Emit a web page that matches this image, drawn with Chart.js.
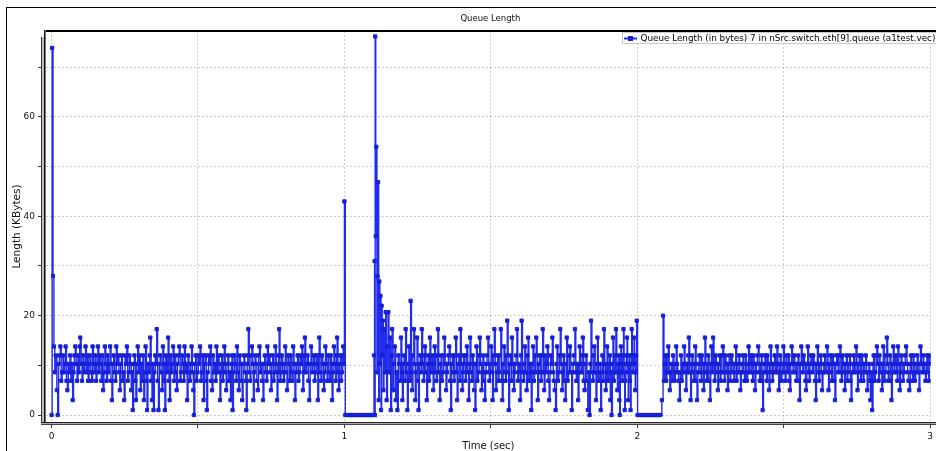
<!DOCTYPE html>
<html>
<head>
<meta charset="utf-8">
<title>Queue Length</title>
<script src="https://cdn.jsdelivr.net/npm/chart.js@4.4.1/dist/chart.umd.min.js"></script>
<style>
  html, body { margin: 0; padding: 0; background: #fff; }
  #wrap { width: 936px; height: 451px; }
</style>
</head>
<body>
<div id="wrap"><canvas id="queueChart" width="936" height="451"></canvas></div>
<script>
// Queue length samples: [time in ms, queue length in KBytes]
const startupBurst = [[0,0],[2,73.9],[5,28],[8,13.8],[11,8.6],[14,12],[18,5],[21,0]];

const firstBand = [
  [24,10.3],[27,12],[30,13.8],[33,6.9],[36,8.6],[39,12],[42,8.6],[45,10.3],[48,13.8],[51,6.9],
  [54,5],[57,10.3],[60,8.6],[63,12],[66,6.9],[69,10.3],[72,3],[75,8.6],[78,12],[81,13.8],
  [84,10.3],[87,6.9],[90,12],[93,8.6],[96,13.8],[98,15.6],[101,10.3],[104,6.9],[107,12],[110,8.6],
  [113,10.3],[116,13.8],[119,8.6],[122,12],[125,6.9],[128,10.3],[131,12],[134,8.6],[137,6.9],[140,13.8],
  [143,10.3],[146,8.6],[149,12],[152,6.9],[155,10.3],[158,13.8],[161,8.6],[164,12],[167,10.3],[170,6.9],
  [173,12],[176,5],[179,8.6],[182,13.8],[185,10.3],[188,6.9],[191,12],[194,8.6],[197,10.3],[200,13.8],
  [203,6.9],[206,3],[209,10.3],[212,12],[215,8.6],[218,6.9],[221,13.8],[224,10.3],[227,12],[230,8.6],
  [233,5],[236,10.3],[239,12],[242,6.9],[245,8.6],[248,3],[251,12],[254,10.3],[257,13.8],[260,6.9],
  [263,8.6],[266,12],[269,10.3],[272,5],[275,8.6],[277,1],[280,10.3],[283,12],[286,6.9],[288,3],
  [291,10.3],[294,13.8],[297,8.6],[300,12],[303,5],[306,10.3],[309,6.9],[312,12],[315,3],[318,8.6],
  [321,13.8],[324,6.9],[326,1],[329,10.3],[332,8.6],[335,12],[337,15.6],[340,6.9],[343,3],[345,10.3],
  [348,1],[351,8.6],[354,12],[357,10.3],[359,17.3],[362,6.9],[365,1],[368,10.3],[371,12],[374,8.6],
  [377,5],[380,13.8],[383,10.3],[385,6.9],[387,1],[390,12],[393,8.6],[396,10.3],[398,15.6],[401,6.9],
  [403,3],[406,12],[409,8.6],[412,10.3],[415,13.8],[418,6.9],[421,12],[424,8.6],[427,5],[430,10.3],
  [433,12],[436,13.8],[439,6.9],[442,8.6],[445,12],[448,10.3],[451,6.9],[454,13.8],[457,8.6],[460,10.3],
  [463,3],[466,12],[469,8.6],[472,6.9],[475,10.3],[478,13.8],[481,8.6],[484,5],[486,0],[489,10.3],
  [492,12],[495,6.9],[498,8.6],[501,12],[504,10.3],[507,13.8],[510,6.9],[513,8.6],[516,12],[519,3],
  [522,10.3],[525,12],[528,6.9],[530,1],[533,8.6],[536,12],[539,10.3],[542,13.8],[545,6.9],[548,5],
  [551,12],[554,8.6],[557,10.3],[560,6.9],[563,13.8],[566,8.6],[569,12],[572,10.3],[575,3],[578,8.6],
  [581,12],[584,6.9],[587,10.3],[590,13.8],[593,8.6],[596,5],[599,10.3],[602,12],[605,6.9],[608,8.6],
  [611,3],[614,10.3],[616,12],[618,1],[621,8.6],[624,12],[627,10.3],[630,6.9],[633,13.8],[636,8.6],
  [639,5],[642,12],[645,10.3],[648,6.9],[651,3],[654,10.3],[657,12],[660,8.6],[663,6.9],[665,1],
  [668,10.3],[670,12],[672,17.3],[675,8.6],[678,6.9],[681,12],[684,13.8],[687,10.3],[689,3],[692,8.6],
  [695,12],[698,10.3],[701,6.9],[704,5],[707,12],[710,13.8],[713,8.6],[716,10.3],[719,6.9],[722,3],
  [725,10.3],[728,12],[731,8.6],[734,6.9],[737,13.8],[740,10.3],[743,12],[746,8.6],[749,5],[752,10.3],
  [755,12],[758,6.9],[761,8.6],[764,13.8],[767,10.3],[770,3],[773,8.6],[775,12],[777,17.3],[780,6.9],
  [783,10.3],[786,12],[789,8.6],[792,6.9],[795,10.3],[798,13.8],[801,8.6],[804,5],[807,12],[810,10.3],
  [813,6.9],[816,12],[819,8.6],[822,6.9],[825,13.8],[828,10.3],[831,3],[834,8.6],[837,10.3],[840,12],
  [843,6.9],[846,8.6],[849,12],[852,10.3],[855,13.8],[858,5],[861,8.6],[863,12],[865,15.6],[868,8.6],
  [871,10.3],[874,12],[877,6.9],[880,3],[883,10.3],[886,13.8],[889,8.6],[892,10.3],[895,12],[898,6.9],
  [901,8.6],[904,12],[907,10.3],[909,3],[912,12],[914,15.6],[917,8.6],[920,6.9],[923,12],[926,10.3],
  [929,5],[932,8.6],[935,13.8],[938,10.3],[941,6.9],[944,12],[947,8.6],[950,6.9],[953,12],[956,10.3],
  [958,3],[961,8.6],[964,13.8],[967,10.3],[970,6.9],[973,12],[975,15.6],[978,8.6],[980,5],[983,10.3],
  [986,12],[989,6.9],[991,8.6],[994,12],[996,13.8],[998,10.3],[1000,43]
];

const firstIdle = [
  [1003,0],[1009,0],[1015,0],[1021,0],[1027,0],[1033,0],[1039,0],[1045,0],[1051,0],[1057,0],
  [1063,0],[1069,0],[1075,0],[1081,0],[1087,0],[1093,0],[1099,0]
];

const secondBurst = [
  [1101,12],[1103,31],[1104,0],[1105,76.2],[1107,36],[1109,54],[1111,8.6],[1113,27.9],[1115,46.9],[1117,3],
  [1119,26.9],[1121,10.3],[1123,24],[1125,1],[1127,22],[1129,12],[1131,19],[1133,5],[1135,17.3],[1138,8.6],
  [1141,20.7],[1144,3],[1147,13.8]
];

const secondBand = [
  [1150,20.7],[1152,8.6],[1155,15.6],[1158,1],[1161,12],[1163,17.3],[1166,5],[1169,10.3],[1172,13.8],[1175,3],
  [1178,8.6],[1181,1],[1184,12],[1187,10.3],[1190,6.9],[1193,15.6],[1196,8.6],[1198,3],[1201,10.3],[1204,12],
  [1207,6.9],[1209,17.3],[1212,8.6],[1215,1],[1218,10.3],[1220,13.8],[1223,6.9],[1226,23],[1229,8.6],[1231,5],
  [1234,12],[1237,17.3],[1240,10.3],[1242,3],[1245,8.6],[1248,15.6],[1251,6.9],[1253,1],[1256,10.3],[1259,12],
  [1262,8.6],[1264,17.3],[1267,10.3],[1270,6.9],[1273,12],[1275,13.8],[1278,8.6],[1281,3],[1284,10.3],[1286,12],
  [1289,6.9],[1292,15.6],[1295,10.3],[1297,8.6],[1300,12],[1303,5],[1306,10.3],[1308,13.8],[1311,8.6],[1314,6.9],
  [1317,12],[1319,17.3],[1322,8.6],[1325,3],[1328,10.3],[1330,12],[1333,6.9],[1336,8.6],[1339,12],[1341,15.6],
  [1344,10.3],[1347,5],[1350,8.6],[1352,10.3],[1355,12],[1358,13.8],[1361,6.9],[1363,1],[1366,10.3],[1369,12],
  [1372,8.6],[1374,6.9],[1377,12],[1380,15.6],[1383,8.6],[1385,3],[1388,10.3],[1391,12],[1394,6.9],[1396,17.3],
  [1399,10.3],[1402,5],[1405,8.6],[1407,12],[1410,10.3],[1413,6.9],[1416,12],[1418,13.8],[1421,8.6],[1424,3],
  [1427,10.3],[1429,15.6],[1432,8.6],[1435,6.9],[1438,12],[1440,10.3],[1443,5],[1446,1],[1449,10.3],[1451,13.8],
  [1454,6.9],[1457,8.6],[1460,12],[1462,15.6],[1465,10.3],[1468,5],[1471,8.6],[1473,12],[1476,6.9],[1479,3],
  [1482,8.6],[1484,10.3],[1487,12],[1490,15.6],[1493,8.6],[1495,6.9],[1498,10.3],[1501,13.8],[1504,8.6],[1506,3],
  [1509,12],[1512,17.3],[1515,10.3],[1517,5],[1520,8.6],[1523,12],[1526,6.9],[1528,8.6],[1531,12],[1534,17.3],
  [1537,6.9],[1539,3],[1542,10.3],[1545,13.8],[1548,8.6],[1550,6.9],[1553,12],[1556,19],[1559,8.6],[1561,1],
  [1564,10.3],[1567,12],[1570,6.9],[1572,15.6],[1575,10.3],[1578,5],[1581,8.6],[1583,10.3],[1586,12],[1589,17.3],
  [1592,6.9],[1594,8.6],[1597,10.3],[1600,3],[1603,12],[1605,19],[1608,8.6],[1611,6.9],[1614,10.3],[1616,13.8],
  [1619,8.6],[1622,5],[1625,12],[1627,15.6],[1630,6.9],[1633,10.3],[1636,8.6],[1638,1],[1641,10.3],[1644,13.8],
  [1647,6.9],[1649,8.6],[1652,12],[1655,15.6],[1658,8.6],[1660,3],[1663,10.3],[1666,12],[1669,8.6],[1671,6.9],
  [1674,12],[1677,17.3],[1680,8.6],[1682,5],[1685,12],[1688,8.6],[1690,10.3],[1693,13.8],[1696,6.9],[1699,3],
  [1702,8.6],[1704,12],[1707,10.3],[1710,15.6],[1713,8.6],[1715,6.9],[1718,5],[1721,1],[1724,10.3],[1726,13.8],
  [1729,6.9],[1732,8.6],[1735,12],[1737,17.3],[1740,10.3],[1743,5],[1746,8.6],[1748,12],[1751,6.9],[1754,3],
  [1757,10.3],[1759,15.6],[1762,6.9],[1765,8.6],[1768,12],[1770,13.8],[1773,8.6],[1776,1],[1779,8.6],[1781,10.3],
  [1784,12],[1787,17.3],[1790,8.6],[1792,6.9],[1795,10.3],[1798,3],[1801,8.6],[1803,13.8],[1806,10.3],[1809,8.6],
  [1812,12],[1814,15.6],[1817,6.9],[1820,5],[1823,10.3],[1825,12],[1828,6.9],[1831,1],[1834,8.6],[1837,0],
  [1840,10.3],[1842,19],[1845,8.6],[1848,6.9],[1851,12],[1853,13.8],[1856,8.6],[1859,3],[1862,10.3],[1864,15.6],
  [1867,6.9],[1870,8.6],[1873,10.3],[1875,1],[1878,8.6],[1881,12],[1884,6.9],[1886,17.3],[1889,10.3],[1892,5],
  [1895,8.6],[1897,13.8],[1900,6.9],[1903,10.3],[1906,12],[1908,3],[1910,8.6],[1912,0],[1915,10.3],[1917,15.6],
  [1920,6.9],[1922,8.6],[1925,12],[1927,17.3],[1930,8.6],[1932,5],[1935,10.3],[1937,12],[1939,3],[1940,0],
  [1942,8.6],[1944,13.8],[1946,10.3],[1948,6.9],[1951,12],[1953,17.3],[1955,8.6],[1957,1],[1959,6.9],[1961,10.3],
  [1963,12],[1965,15.6],[1967,8.6],[1969,3],[1971,10.3],[1973,12],[1975,6.9],[1977,1],[1979,10.3],[1981,17.3],
  [1983,12],[1985,8.6],[1987,12],[1989,15.6],[1991,10.3],[1993,5],[1995,8.6],[1996,12],[1998,19]
];

const secondIdle = [
  [2001,0],[2007,0],[2013,0],[2019,0],[2025,0],[2031,0],[2037,0],[2043,0],[2049,0],[2055,0],
  [2061,0],[2067,0],[2073,0],[2079,0],[2084,3],[2088,20]
];

const thirdBand = [
  [2091,6.9],[2094,10.3],[2096,12],[2099,6.9],[2101,8.6],[2104,12],[2106,13.8],[2109,8.6],[2111,5],[2114,8.6],
  [2116,10.3],[2119,6.9],[2122,12],[2125,10.3],[2127,6.9],[2130,8.6],[2133,13.8],[2136,10.3],[2138,8.6],[2141,6.9],
  [2144,3],[2147,8.6],[2149,12],[2152,6.9],[2155,10.3],[2158,8.6],[2160,13.8],[2163,10.3],[2166,5],[2169,10.3],
  [2171,8.6],[2174,12],[2176,15.6],[2179,8.6],[2182,3],[2185,10.3],[2187,12],[2190,8.6],[2193,6.9],[2196,10.3],
  [2198,13.8],[2201,6.9],[2204,3],[2207,8.6],[2209,10.3],[2212,12],[2215,8.6],[2218,6.9],[2220,12],[2223,10.3],
  [2226,5],[2229,8.6],[2231,15.6],[2234,10.3],[2237,6.9],[2240,8.6],[2242,12],[2245,6.9],[2248,3],[2251,10.3],
  [2253,13.8],[2256,8.6],[2259,15.6],[2262,10.3],[2264,6.9],[2267,12],[2270,10.3],[2273,8.6],[2275,5],[2278,10.3],
  [2281,12],[2284,6.9],[2286,8.6],[2289,12],[2292,13.8],[2295,8.6],[2297,6.9],[2300,12],[2303,10.3],[2306,8.6],
  [2308,5],[2311,10.3],[2314,12],[2317,6.9],[2319,8.6],[2322,12],[2325,10.3],[2328,8.6],[2330,6.9],[2333,10.3],
  [2336,13.8],[2339,6.9],[2341,8.6],[2344,10.3],[2347,12],[2350,8.6],[2352,5],[2355,8.6],[2358,10.3],[2361,12],
  [2363,8.6],[2366,6.9],[2369,12],[2372,10.3],[2374,6.9],[2377,8.6],[2380,13.8],[2383,8.6],[2385,10.3],[2388,12],
  [2391,8.6],[2394,6.9],[2396,12],[2399,10.3],[2402,5],[2405,8.6],[2407,10.3],[2410,12],[2413,13.8],[2416,8.6],
  [2418,6.9],[2421,10.3],[2424,12],[2426,6.9],[2428,1],[2431,8.6],[2433,10.3],[2436,12],[2439,8.6],[2442,6.9],
  [2444,12],[2447,10.3],[2450,5],[2453,8.6],[2455,13.8],[2458,10.3],[2461,6.9],[2464,8.6],[2466,10.3],[2469,12],
  [2472,8.6],[2475,10.3],[2477,13.8],[2480,8.6],[2483,5],[2486,10.3],[2488,12],[2491,6.9],[2494,8.6],[2497,10.3],
  [2499,13.8],[2502,8.6],[2505,6.9],[2508,12],[2510,10.3],[2513,8.6],[2516,12],[2519,6.9],[2521,5],[2524,10.3],
  [2527,13.8],[2530,10.3],[2532,8.6],[2535,12],[2538,10.3],[2541,8.6],[2543,6.9],[2546,10.3],[2549,12],[2552,6.9],
  [2554,3],[2557,10.3],[2560,13.8],[2563,10.3],[2565,8.6],[2568,12],[2571,10.3],[2574,6.9],[2576,5],[2579,10.3],
  [2582,13.8],[2585,8.6],[2587,6.9],[2590,10.3],[2593,12],[2596,10.3],[2598,8.6],[2601,12],[2604,10.3],[2607,6.9],
  [2609,3],[2612,10.3],[2615,13.8],[2618,8.6],[2620,6.9],[2623,10.3],[2626,12],[2629,8.6],[2631,5],[2634,8.6],
  [2637,10.3],[2640,12],[2642,8.6],[2645,10.3],[2648,13.8],[2651,8.6],[2653,5],[2656,10.3],[2659,12],[2662,8.6],
  [2664,6.9],[2667,12],[2670,10.3],[2673,6.9],[2675,3],[2678,10.3],[2681,12],[2684,10.3],[2686,8.6],[2689,12],
  [2692,13.8],[2695,8.6],[2697,6.9],[2700,12],[2703,10.3],[2706,8.6],[2708,5],[2711,10.3],[2714,12],[2717,6.9],
  [2719,8.6],[2722,10.3],[2725,12],[2728,6.9],[2730,3],[2733,8.6],[2736,10.3],[2739,12],[2741,8.6],[2744,10.3],
  [2747,13.8],[2750,8.6],[2752,5],[2755,10.3],[2758,12],[2761,8.6],[2763,6.9],[2766,12],[2769,10.3],[2772,6.9],
  [2774,8.6],[2777,10.3],[2780,12],[2783,8.6],[2785,5],[2788,8.6],[2791,10.3],[2794,6.9],[2796,3],[2799,8.6],
  [2802,1],[2805,10.3],[2807,12],[2810,6.9],[2813,8.6],[2816,12],[2818,13.8],[2821,10.3],[2824,6.9],[2827,12],
  [2829,10.3],[2832,8.6],[2835,5],[2838,10.3],[2840,13.8],[2843,6.9],[2846,8.6],[2849,12],[2852,15.6],[2855,10.3],
  [2857,6.9],[2860,8.6],[2863,12],[2866,6.9],[2868,3],[2871,10.3],[2874,13.8],[2877,8.6],[2879,10.3],[2882,12],
  [2885,8.6],[2888,6.9],[2890,13.8],[2893,10.3],[2896,5],[2899,8.6],[2901,12],[2904,10.3],[2907,6.9],[2910,8.6],
  [2912,10.3],[2915,12],[2918,13.8],[2921,10.3],[2923,8.6],[2926,6.9],[2929,5],[2932,10.3],[2934,12],[2937,8.6],
  [2940,6.9],[2943,12],[2945,10.3],[2948,6.9],[2951,8.6],[2954,10.3],[2956,12],[2959,8.6],[2962,5],[2965,10.3],
  [2967,13.8],[2970,10.3],[2973,8.6],[2976,12],[2978,10.3],[2981,8.6],[2984,6.9],[2987,10.3],[2989,12],[2992,8.6],
  [2995,6.9],[2997,12],[3000,10.3]
];

// Axis ticks (every tick gets a grid line, only some carry a label)
const xTickValues = [0, 0.5, 1, 1.5, 2, 2.5, 3];
const xTickLabels = ['0', '', '1', '', '2', '', '3'];
const yTickValues = [0, 10, 20, 30, 40, 50, 60, 70];
const yTickLabels = ['0', '', '20', '', '40', '', '60', ''];

const chartTitle = 'Queue Length';
const seriesName = 'Queue Length (in bytes) 7 in nSrc.switch.eth[9].queue (a1test.vec)';
const xAxisTitle = 'Time (sec)';
const yAxisTitle = 'Length (KBytes)';

const lineBlue = 'rgb(34,44,236)';
const markerBlue = 'rgb(24,32,212)';
const uiFont = "'DejaVu Sans', 'Liberation Sans', sans-serif";

const samples = [].concat(startupBurst, firstBand, firstIdle, secondBurst, secondBand, secondIdle, thirdBand)
  .map(([ms, kb]) => ({ x: ms / 1000, y: kb }));

// Window frame, 3D-style axis rails, chart title and legend box
const plotChrome = {
  id: 'plotChrome',
  beforeDraw(chart) {
    const ctx = chart.ctx;
    ctx.save();
    ctx.fillStyle = '#fff';
    ctx.fillRect(0, 0, chart.width, chart.height);
    ctx.restore();
  },
  afterDraw(chart) {
    const { ctx, chartArea: a } = chart;
    const W = chart.width, H = chart.height;
    ctx.save();
    // outer window border
    ctx.fillStyle = '#000';
    ctx.fillRect(6, 7, W - 6, 1);
    ctx.fillRect(6, 7, 1, H - 7);
    // top edge of the plot
    ctx.fillRect(a.left - 2, a.top - 1, W - a.left + 2, 2);
    // left axis rail
    ctx.fillStyle = '#3a3a3a';
    ctx.fillRect(a.left - 5, a.top + 6, 1, a.bottom - a.top - 4);
    ctx.fillStyle = '#bdbdbd';
    ctx.fillRect(a.left - 4, a.top + 6, 2, a.bottom - a.top - 4);
    ctx.fillStyle = '#111';
    ctx.fillRect(a.left - 2, a.top - 1, 1, a.bottom - a.top + 3);
    ctx.fillStyle = '#777';
    ctx.fillRect(a.left - 1, a.top - 1, 1, a.bottom - a.top + 1);
    // bottom axis rail
    ctx.fillStyle = '#222';
    ctx.fillRect(a.left - 5, a.bottom, W - a.left + 5, 1);
    ctx.fillStyle = '#aaa';
    ctx.fillRect(a.left - 5, a.bottom + 1, W - a.left + 5, 1);
    ctx.fillStyle = '#444';
    ctx.fillRect(a.left - 5, a.bottom + 2, W - a.left + 5, 1);

    // chart title
    ctx.fillStyle = '#111';
    ctx.font = '8.5px ' + uiFont;
    ctx.textAlign = 'center';
    ctx.textBaseline = 'middle';
    ctx.fillText(chartTitle, (a.left + a.right) / 2 + 2, 19);

    // legend box
    const lx = 622.5, ly = 32.5, lh = 11;
    ctx.fillStyle = '#fff';
    ctx.fillRect(lx, ly, W - lx, lh);
    ctx.strokeStyle = '#c8c8c8';
    ctx.lineWidth = 1;
    ctx.strokeRect(lx, ly, W - lx + 2, lh);
    const ds = chart.data.datasets[0];
    ctx.strokeStyle = ds.borderColor;
    ctx.lineWidth = 2;
    ctx.beginPath();
    ctx.moveTo(624, 38.5);
    ctx.lineTo(637, 38.5);
    ctx.stroke();
    ctx.fillStyle = ds.pointBackgroundColor;
    ctx.fillRect(628, 36, 5, 5);
    ctx.fillStyle = '#000';
    ctx.font = '8.8px ' + uiFont;
    ctx.textAlign = 'left';
    ctx.textBaseline = 'middle';
    ctx.fillText(seriesName, 640.5, 38.5);
    ctx.restore();
  }
};

const gridColor = 'rgba(0,0,0,0.2)';

new Chart(document.getElementById('queueChart'), {
  type: 'line',
  data: {
    datasets: [{
      label: seriesName,
      data: samples,
      stepped: true,
      borderColor: lineBlue,
      borderWidth: 1.4,
      pointStyle: 'rect',
      pointRadius: 2.3,
      pointBorderWidth: 1,
      pointBackgroundColor: markerBlue,
      pointBorderColor: markerBlue,
      fill: false
    }]
  },
  options: {
    responsive: false,
    animation: false,
    devicePixelRatio: 1,
    events: [],
    layout: { padding: { top: 31, right: 2, left: 0, bottom: 0 } },
    plugins: {
      legend: { display: false },
      title: { display: false },
      tooltip: { enabled: false }
    },
    scales: {
      x: {
        type: 'linear',
        min: -0.019,
        max: 3.002,
        afterBuildTicks(scale) { scale.ticks = xTickValues.map(v => ({ value: v })); },
        afterFit(scale) { scale.height = 29; },
        grid: {
          color: gridColor,
          lineWidth: 1,
          drawTicks: true,
          tickLength: 6,
          tickColor: '#333',
          tickWidth: 1
        },
        border: { display: false, dash: [2, 2] },
        ticks: {
          autoSkip: false,
          maxRotation: 0,
          padding: 3,
          color: '#111',
          font: { family: uiFont, size: 9 },
          callback: (v) => xTickLabels[xTickValues.indexOf(v)] ?? ''
        },
        title: {
          display: true,
          text: xAxisTitle,
          color: '#111',
          font: { family: uiFont, size: 10, lineHeight: 0.9 },
          padding: { top: 0, bottom: 0 }
        }
      },
      y: {
        type: 'linear',
        min: -1.4,
        max: 77.3,
        afterBuildTicks(scale) { scale.ticks = yTickValues.map(v => ({ value: v })); },
        afterFit(scale) { scale.width = 46; },
        grid: {
          color: gridColor,
          lineWidth: 1,
          drawTicks: true,
          tickLength: 8,
          tickColor: '#333',
          tickWidth: 1
        },
        border: { display: false, dash: [2, 2] },
        ticks: {
          autoSkip: false,
          padding: 3,
          color: '#111',
          font: { family: uiFont, size: 9 },
          callback: (v) => yTickLabels[yTickValues.indexOf(v)] ?? ''
        },
        title: {
          display: true,
          text: yAxisTitle,
          color: '#111',
          font: { family: uiFont, size: 10.5 },
          padding: { top: 10.5, bottom: 0 }
        }
      }
    }
  },
  plugins: [plotChrome]
});
</script>
</body>
</html>
